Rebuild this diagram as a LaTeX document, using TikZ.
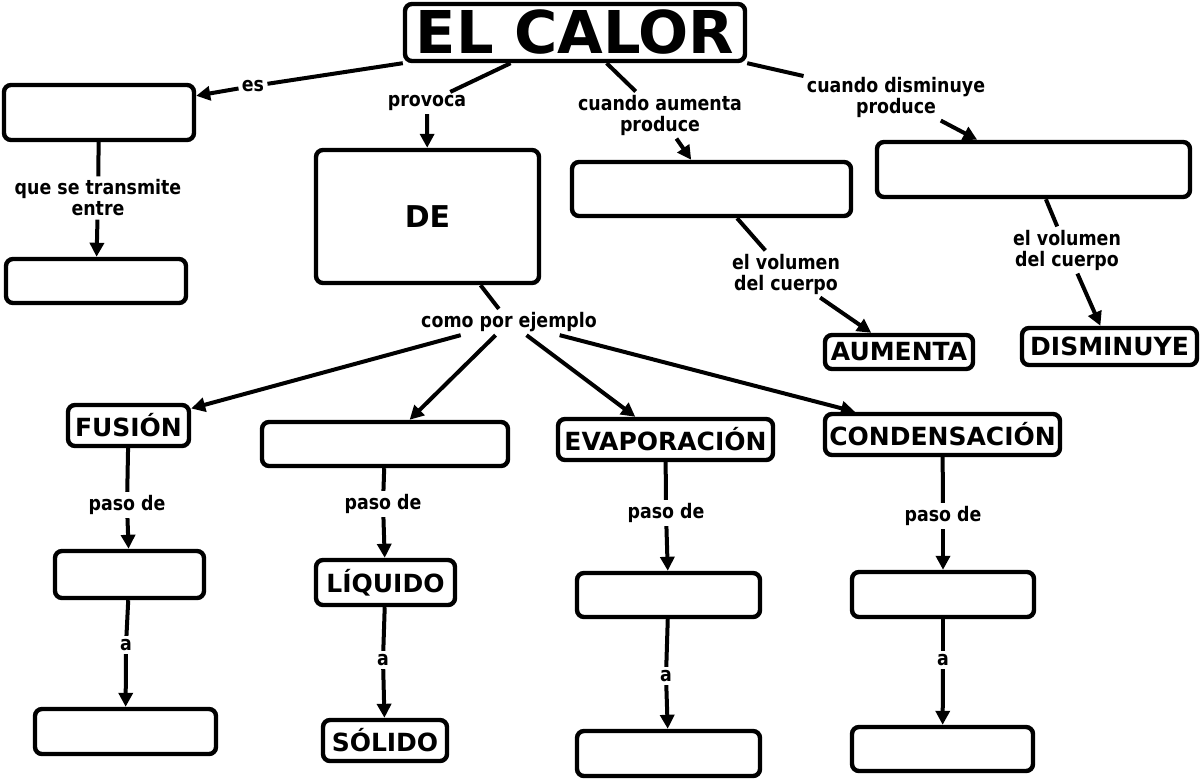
\documentclass[tikz,border=0pt]{standalone}
\usepackage{fontspec}
\setmainfont{DejaVu Sans}
\newfontfamily\lblfont[FakeStretch=0.87]{DejaVu Sans}
\usetikzlibrary{arrows.meta}

\begin{document}
\begin{tikzpicture}[x=0.5pt,y=-0.5pt,
	concepto/.style={draw,line width=2.2pt,rounded corners=3.5pt,inner sep=0pt,
		font=\bfseries\fontsize{12.5}{14}\selectfont},
	enlace/.style={inner sep=1.5pt,align=center,
		font=\lblfont\bfseries\fontsize{10}{10.5}\selectfont},
	linea/.style={line width=2pt},
	flecha/.style={line width=2pt,-{Triangle[length=7pt,width=7pt]}}
	]
	\useasboundingbox (0,0) rectangle (1202,781);
	% conceptos
	\node[concepto,minimum width=170pt,minimum height=28.5pt,font=\bfseries\fontsize{29.5}{30}\selectfont] (calor) at (575,32.5) {EL CALOR};
	\node[concepto,minimum width=95pt,minimum height=27.5pt] (es-box) at (99,112.5) {};
	\node[concepto,minimum width=90pt,minimum height=22pt] (entre-box) at (96,281) {};
	\node[concepto,minimum width=111.5pt,minimum height=66.5pt,font=\bfseries\fontsize{15}{16}\selectfont] (de) at (427.5,216.5) {DE};
	\node[concepto,minimum width=139.5pt,minimum height=27pt] (aum-box) at (711.5,189) {};
	\node[concepto,minimum width=156.5pt,minimum height=27.5pt] (dis-box) at (1033.5,169.5) {};
	\node[concepto,minimum width=74pt,minimum height=17pt] (aumenta) at (899,352) {AUMENTA};
	\node[concepto,minimum width=87.5pt,minimum height=18.5pt] (disminuye) at (1109.5,346.5) {DISMINUYE};
	\node[concepto,minimum width=60.5pt,minimum height=20.5pt] (fusion) at (128.5,425.5) {FUSIÓN};
	\node[concepto,minimum width=123pt,minimum height=22pt] (sol-box) at (385,444) {};
	\node[concepto,minimum width=107.5pt,minimum height=20.5pt] (evap) at (665.5,439.5) {EVAPORACIÓN};
	\node[concepto,minimum width=117.5pt,minimum height=20.5pt] (cond) at (942.5,434.5) {CONDENSACIÓN};
	\node[concepto,minimum width=74.5pt,minimum height=23.5pt] (fus-de) at (129.5,574.5) {};
	\node[concepto,minimum width=69.5pt,minimum height=22.5pt] (liquido) at (385.5,582.5) {LÍQUIDO};
	\node[concepto,minimum width=91.5pt,minimum height=22pt] (evap-de) at (668.5,595) {};
	\node[concepto,minimum width=91pt,minimum height=22.5pt] (cond-de) at (943,594.5) {};
	\node[concepto,minimum width=90.5pt,minimum height=22.5pt] (fus-a) at (125.5,731.5) {};
	\node[concepto,minimum width=62pt,minimum height=20.5pt] (solido) at (385,740.5) {SÓLIDO};
	\node[concepto,minimum width=91.5pt,minimum height=22.5pt] (evap-a) at (668.5,753.5) {};
	\node[concepto,minimum width=90.5pt,minimum height=22pt] (cond-a) at (942.5,749) {};
	% palabras de enlace
	\node[enlace] (l-es) at (253,86) {es};
	\node[enlace] (l-provoca) at (427,103) {provoca};
	\node[enlace] (l-aum) at (660,115) {cuando aumenta\\produce};
	\node[enlace] (l-dis) at (896,97) {cuando disminuye\\produce};
	\node[enlace] (l-transm) at (98,198) {que se transmite\\entre};
	\node[enlace] (l-vol1) at (786,274) {el volumen\\del cuerpo};
	\node[enlace] (l-vol2) at (1067,250) {el volumen\\del cuerpo};
	\node[enlace] (l-ejemplo) at (509,322) {como por ejemplo};
	\node[enlace] (l-paso1) at (127,505) {paso de};
	\node[enlace] (l-paso2) at (383,504) {paso de};
	\node[enlace] (l-paso3) at (666,513) {paso de};
	\node[enlace] (l-paso4) at (943,516) {paso de};
	\node[enlace] (l-a1) at (126,645) {a};
	\node[enlace] (l-a2) at (383,660) {a};
	\node[enlace] (l-a3) at (666,676) {a};
	\node[enlace] (l-a4) at (943,660) {a};
	% uniones
	\draw[linea] (calor.south west) -- (l-es);
	\draw[flecha] (l-es) -- (es-box);
	\draw[linea] (calor) -- (l-provoca);
	\draw[flecha] (l-provoca) -- (de);
	\draw[linea] (calor) -- (l-aum);
	\draw[flecha] (l-aum) -- (aum-box);
	\draw[linea] (calor.south east) -- (l-dis);
	\draw[flecha] (l-dis) -- (dis-box);
	\draw[linea] (es-box) -- (l-transm);
	\draw[flecha] (l-transm) -- (entre-box);
	\draw[linea] (aum-box) -- (l-vol1);
	\draw[flecha] (l-vol1) -- (aumenta);
	\draw[linea] (dis-box) -- (l-vol2);
	\draw[flecha] (l-vol2) -- (disminuye);
	\draw[linea] (de) -- (l-ejemplo);
	\draw[flecha] (l-ejemplo) -- (fusion);
	\draw[flecha] (l-ejemplo) -- (sol-box);
	\draw[flecha] (l-ejemplo) -- (evap);
	\draw[flecha] (l-ejemplo) -- (cond);
	\draw[linea] (fusion) -- (l-paso1);
	\draw[flecha] (l-paso1) -- (fus-de);
	\draw[linea] (fus-de) -- (l-a1);
	\draw[flecha] (l-a1) -- (fus-a);
	\draw[linea] (sol-box) -- (l-paso2);
	\draw[flecha] (l-paso2) -- (liquido);
	\draw[linea] (liquido) -- (l-a2);
	\draw[flecha] (l-a2) -- (solido);
	\draw[linea] (evap) -- (l-paso3);
	\draw[flecha] (l-paso3) -- (evap-de);
	\draw[linea] (evap-de) -- (l-a3);
	\draw[flecha] (l-a3) -- (evap-a);
	\draw[linea] (cond) -- (l-paso4);
	\draw[flecha] (l-paso4) -- (cond-de);
	\draw[linea] (cond-de) -- (l-a4);
	\draw[flecha] (l-a4) -- (cond-a);
\end{tikzpicture}
\end{document}
